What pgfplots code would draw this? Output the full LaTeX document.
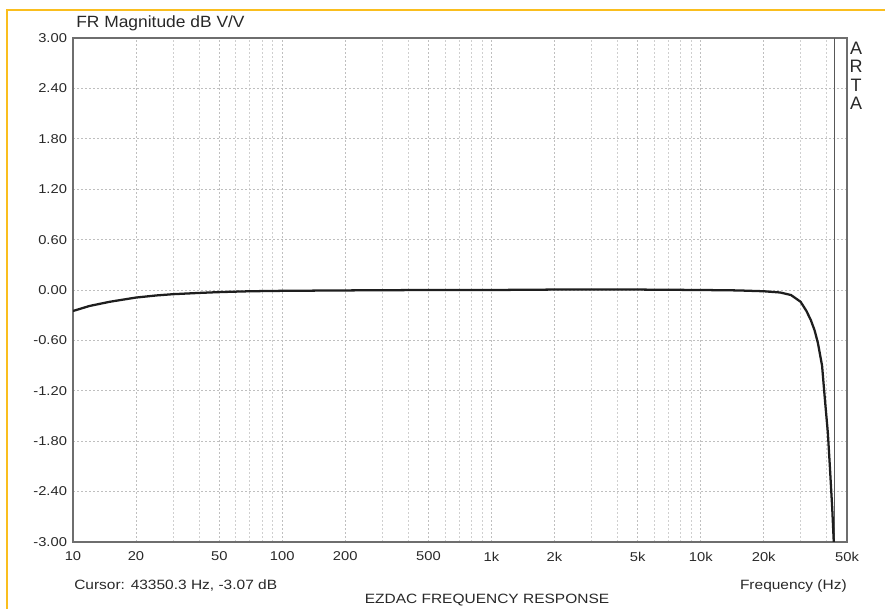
\documentclass[border=0pt]{standalone}
\usepackage{pgfplots}
\pgfplotsset{compat=1.18}
\usepackage{fontspec}
\setmainfont{Liberation Sans}
\usepackage{graphicx}
\definecolor{frameor}{RGB}{250,190,30}
\definecolor{txt}{RGB}{40,40,40}
\definecolor{frm}{RGB}{110,110,110}
\definecolor{crv}{RGB}{30,30,30}
\newcommand\st[1]{\scalebox{1.15}[1]{#1}}
\begin{document}
\begin{tikzpicture}[x=0.75pt,y=0.75pt]
\path[use as bounding box] (0,0) rectangle (885,609);
\draw[frameor, line width=1.4pt] (7,-2) -- (7,599) -- (887,599);
\begin{axis}[
  at={(54.75pt,50.25pt)}, anchor=south west,
  scale only axis, width=580.5pt, height=378pt,
  xmode=log, xmin=10, xmax=50000, ymin=-3, ymax=3,
  axis line style={frm, line width=1.1pt},
  xtick={10,20,50,100,200,500,1000,2000,5000,10000,20000,50000},
  xticklabels={\st{10},\st{20},\st{50},\st{100},\st{200},\st{500},\st{1k},\st{2k},\st{5k},\st{10k},\st{20k},\st{50k}},
  minor xtick={30,40,60,70,80,90,300,400,600,700,800,900,3000,4000,6000,7000,8000,9000,30000,40000},
  ytick={-3,-2.4,-1.8,-1.2,-0.6,0,0.6,1.2,1.8,2.4,3},
  yticklabels={\st{-3.00},\st{-2.40},\st{-1.80},\st{-1.20},\st{-0.60},\st{0.00},\st{0.60},\st{1.20},\st{1.80},\st{2.40},\st{3.00}},
  major tick length=0pt, minor tick length=0pt,
  tick label style={font=\fontsize{9.6pt}{11pt}\selectfont, text=txt},
  xticklabel style={yshift=-4pt},
  yticklabel style={xshift=-1pt},
  grid=both,
  major grid style={gray!50, line width=0.5pt, dash pattern=on 1.5pt off 1.5pt},
  minor grid style={gray!38, line width=0.5pt, dash pattern=on 1.5pt off 1.5pt},
  clip=true,
]
\addplot[frm!80!black, line width=0.8pt] coordinates {(43350,-3) (43350,3)};
\addplot[crv, line width=1.7pt] coordinates {
(10,-0.25) (12,-0.19) (15,-0.14) (20,-0.09) (25,-0.065) (30,-0.05) (40,-0.035)
(50,-0.025) (70,-0.015) (100,-0.01) (200,-0.005) (500,0) (1000,0) (2000,0.005)
(5000,0.005) (10000,0) (15000,-0.005) (20000,-0.015) (24000,-0.03) (27000,-0.06)
(30000,-0.14) (32000,-0.25) (33600,-0.36) (35000,-0.48) (36300,-0.63) (38000,-0.9)
(39200,-1.3) (40500,-1.7) (41400,-2.1) (42500,-2.6) (43350,-3.07)
};
\end{axis}
\node[anchor=base west, text=txt, inner sep=0pt, font=\fontsize{12.2pt}{14pt}\selectfont] at (76,581) {\scalebox{1.07}[1]{FR Magnitude dB V/V}};
\node[anchor=base west, text=txt, inner sep=0pt, font=\fontsize{10.1pt}{12pt}\selectfont] at (74,19) {\st{Cursor: 43350.3 Hz, -3.07 dB}};
\node[anchor=base east, text=txt, inner sep=0pt, font=\fontsize{10.1pt}{12pt}\selectfont] at (847,19) {\st{Frequency (Hz)}};
\node[anchor=base, text=txt, inner sep=0pt, font=\fontsize{10.1pt}{12pt}\selectfont] at (487,5) {\st{EZDAC FREQUENCY RESPONSE}};
\foreach \l/\yy in {A/561,R/543,T/524,A/506}{
  \node[text=txt, inner sep=0pt, font=\fontsize{13.5pt}{14pt}\selectfont] at (856,\yy) {\l};
}
\end{tikzpicture}
\end{document}
